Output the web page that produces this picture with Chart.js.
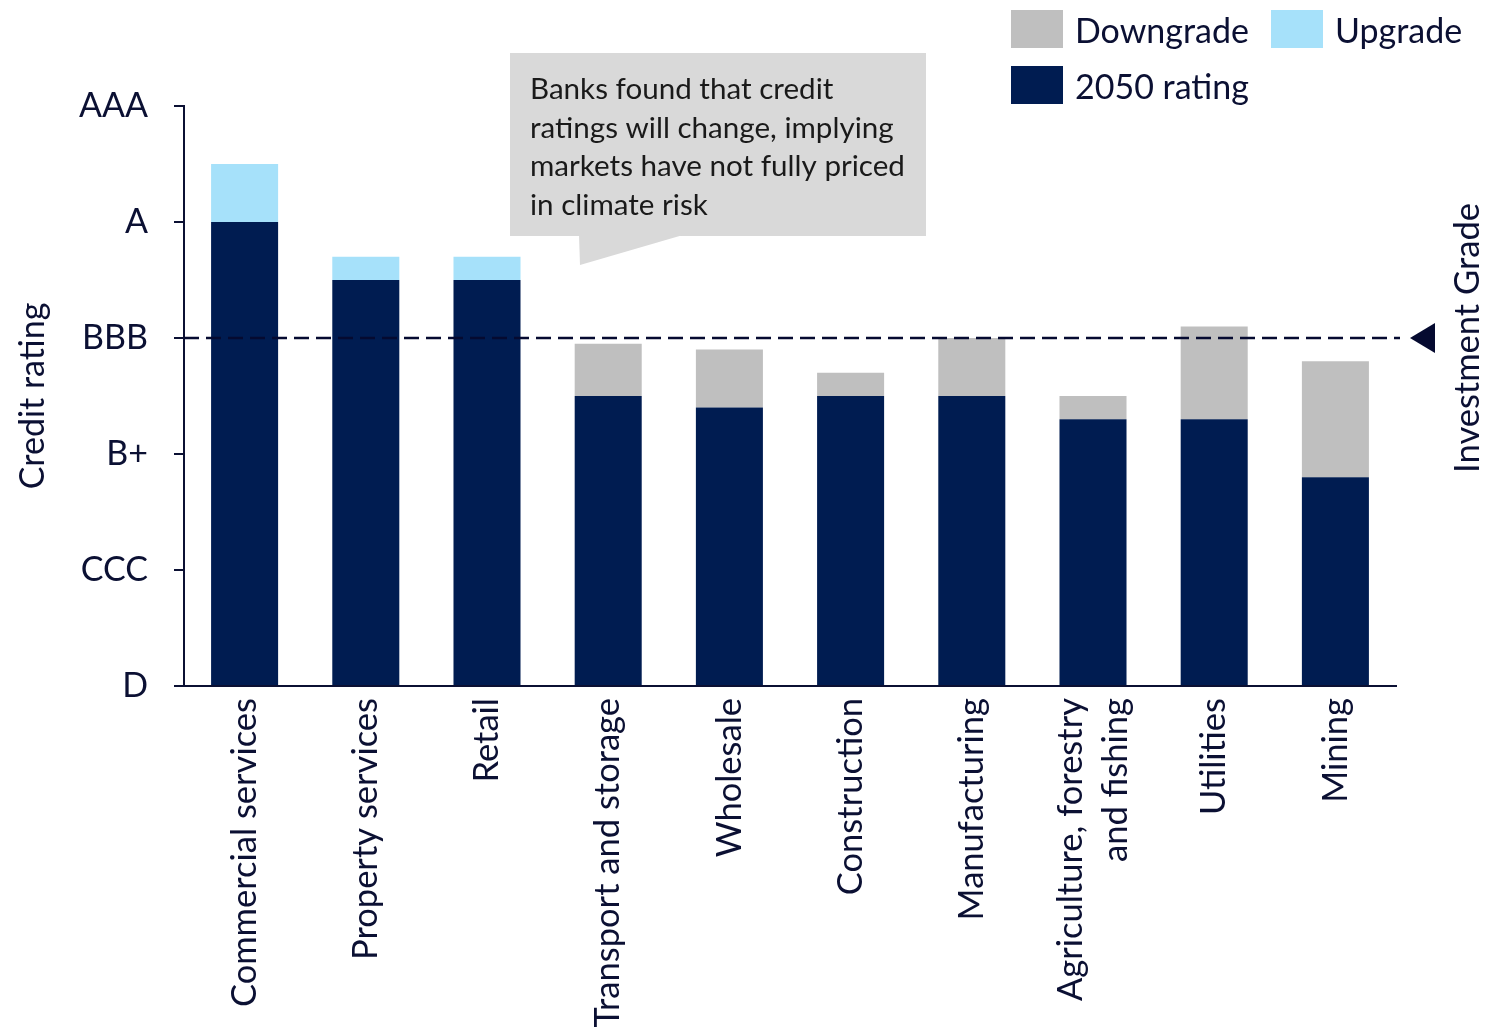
<!DOCTYPE html>
<html>
<head>
<meta charset="utf-8">
<script src="https://cdn.jsdelivr.net/npm/chart.js@4.4.1/dist/chart.umd.min.js"></script>
<style>
  html, body { margin: 0; padding: 0; background: #fff; }
  #wrap { width: 1501px; height: 1031px; position: relative; }
</style>
</head>
<body>
<div id="wrap"><canvas id="chart"></canvas></div>
<script>
const sectors = [
  "Commercial services",
  "Property services",
  "Retail",
  "Transport and storage",
  "Wholesale",
  "Construction",
  "Manufacturing",
  ["Agriculture, forestry", "and fishing"],
  "Utilities",
  "Mining"
];
// 0 = D ... 5 = AAA
const rating2050 = [4.0, 3.5, 3.5, 2.5, 2.4, 2.5, 2.5, 2.3, 2.3, 1.8];
const downgrade = [0, 0, 0, 0.45, 0.5, 0.2, 0.5, 0.2, 0.8, 1.0];
const upgrade = [0.5, 0.2, 0.2, 0, 0, 0, 0, 0, 0, 0];
const ratingLabels = ["D", "CCC", "B+", "BBB", "A", "AAA"];
const investmentGrade = 3;
const calloutLines = [
  "Banks found that credit",
  "ratings will change, implying",
  "markets have not fully priced",
  "in climate risk"
];

const NAVY = "#001c51";
const INK = "#0b1033";
const FONT = "Lato, 'Open Sans', sans-serif";

// center multi-line x labels on their bars
const centerLabels = {
  id: "centerLabels",
  beforeDraw(chart) {
    const items = chart.scales.x.getLabelItems();
    items.forEach(it => {
      if (Array.isArray(it.label)) {
        it.textOffset -= (it.label.length - 1) * it.font.lineHeight / 2;
      }
    });
  }
};

const extras = {
  id: "extras",
  afterDatasetsDraw(chart) {
    const ctx = chart.ctx;
    const y = chart.scales.y.getPixelForValue(investmentGrade);
    const area = chart.chartArea;
    ctx.save();
    // investment grade line
    ctx.strokeStyle = "#050a30";
    ctx.lineWidth = 2.5;
    ctx.setLineDash([15, 7]);
    ctx.beginPath();
    ctx.moveTo(area.left, y);
    ctx.lineTo(area.right + 4, y);
    ctx.stroke();
    ctx.setLineDash([]);
    ctx.fillStyle = "#050a30";
    ctx.beginPath();
    ctx.moveTo(area.right + 14, y);
    ctx.lineTo(area.right + 39, y - 15);
    ctx.lineTo(area.right + 39, y + 15);
    ctx.closePath();
    ctx.fill();
    ctx.translate(1468, y);
    ctx.rotate(-Math.PI / 2);
    ctx.fillStyle = INK;
    ctx.font = "34.5px " + FONT;
    ctx.textAlign = "center";
    ctx.textBaseline = "middle";
    ctx.fillText("Investment Grade", 0, 0);
    ctx.restore();

    // callout
    ctx.save();
    ctx.fillStyle = "#d9d9d9";
    ctx.fillRect(510, 53, 416, 183);
    ctx.beginPath();
    ctx.moveTo(579, 235);
    ctx.lineTo(580, 265);
    ctx.lineTo(683, 235);
    ctx.closePath();
    ctx.fill();
    ctx.fillStyle = "#1a1a1a";
    ctx.font = "29.6px " + FONT;
    ctx.textAlign = "left";
    ctx.textBaseline = "alphabetic";
    calloutLines.forEach((line, i) => ctx.fillText(line, 530, 99 + i * 38.5));
    ctx.restore();

    // legend
    const items = [
      { ds: 1, x: 1011, y: 10 },
      { ds: 2, x: 1271, y: 10 },
      { ds: 0, x: 1011, y: 66 }
    ];
    ctx.save();
    ctx.font = "34px " + FONT;
    ctx.textBaseline = "middle";
    ctx.textAlign = "left";
    items.forEach(it => {
      const ds = chart.data.datasets[it.ds];
      ctx.fillStyle = ds.backgroundColor;
      ctx.fillRect(it.x, it.y, 52, 38);
      ctx.fillStyle = INK;
      ctx.fillText(ds.label, it.x + 64, it.y + 22);
    });
    ctx.restore();
  }
};

new Chart(document.getElementById("chart"), {
  type: "bar",
  data: {
    labels: sectors,
    datasets: [
      { label: "2050 rating", data: rating2050, backgroundColor: NAVY },
      { label: "Downgrade", data: downgrade, backgroundColor: "#bfbfbf" },
      { label: "Upgrade", data: upgrade, backgroundColor: "#a6e1fa" }
    ]
  },
  options: {
    responsive: true,
    maintainAspectRatio: false,
    animation: false,
    devicePixelRatio: 1,
    layout: { padding: { left: 0, right: 105, top: 106, bottom: 0 } },
    datasets: { bar: { barPercentage: 0.553, categoryPercentage: 1, borderWidth: 0 } },
    plugins: { legend: { display: false }, tooltip: { enabled: false } },
    scales: {
      x: {
        stacked: true,
        afterFit: s => { s.height = 345; },
        grid: { display: false, drawTicks: false },
        border: { display: true, color: INK, width: 2 },
        ticks: {
          autoSkip: false,
          minRotation: 90,
          maxRotation: 90,
          padding: 12,
          color: INK,
          font: { family: FONT, size: 34.5, lineHeight: 1.3 }
        }
      },
      y: {
        stacked: true,
        min: 0,
        max: 5,
        afterFit: s => { s.width = 184; },
        grid: { drawOnChartArea: false, drawTicks: true, tickLength: 10, color: INK, lineWidth: 2 },
        border: { display: true, color: INK, width: 2 },
        ticks: {
          stepSize: 1,
          padding: 26,
          color: INK,
          font: { family: FONT, size: 34 },
          callback: v => ratingLabels[v]
        },
        title: {
          display: true,
          text: "Credit rating",
          color: INK,
          padding: { top: 16 },
          font: { family: FONT, size: 34, lineHeight: 1 }
        }
      }
    }
  },
  plugins: [centerLabels, extras]
});
</script>
</body>
</html>
